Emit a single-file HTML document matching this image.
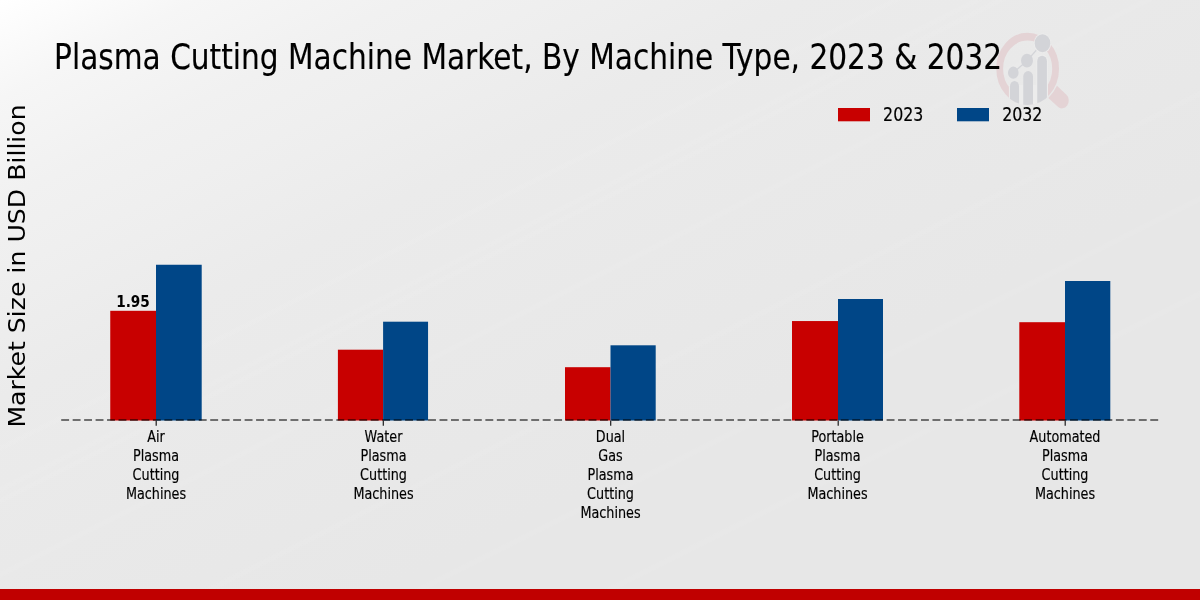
<!DOCTYPE html>
<html lang="en">
<head>
<meta charset="utf-8">
<title>Plasma Cutting Machine Market, By Machine Type, 2023 &amp; 2032</title>
<style>
html,body{margin:0;padding:0;}
body{width:1200px;height:600px;overflow:hidden;background:#e8e8e8;}
#chart{position:absolute;left:0;top:0;width:1200px;height:600px;
 background:linear-gradient(153.4deg,rgba(255,255,255,0) 0px,rgba(255,255,255,0) 396px,rgba(255,255,255,0.045) 400px,rgba(255,255,255,0.045) 402px,rgba(255,255,255,0) 406px,rgba(255,255,255,0) 433px,rgba(255,255,255,0.045) 437px,rgba(255,255,255,0.045) 439px,rgba(255,255,255,0) 443px,rgba(255,255,255,0) 443px,rgba(255,255,255,0.045) 447px,rgba(255,255,255,0.045) 449px,rgba(255,255,255,0) 453px,rgba(255,255,255,0) 509px,rgba(255,255,255,0.045) 513px,rgba(255,255,255,0.045) 515px,rgba(255,255,255,0) 519px,rgba(255,255,255,0) 616px,rgba(255,255,255,0.045) 620px,rgba(255,255,255,0.045) 622px,rgba(255,255,255,0) 626px,rgba(255,255,255,0) 710px,rgba(255,255,255,0.045) 714px,rgba(255,255,255,0.045) 716px,rgba(255,255,255,0) 720px,rgba(255,255,255,0) 795px,rgba(255,255,255,0.045) 799px,rgba(255,255,255,0.045) 801px,rgba(255,255,255,0) 805px,rgba(255,255,255,0) 1073px),linear-gradient(153.4deg,#ffffff 0px,#fbfbfb 40px,#f6f6f6 88px,#f1f1f1 180px,#efefef 245px,#ebebeb 357px,#e9e9e9 513px,#e7e7e7 700px,#e7e7e7 1073px);}
svg{position:absolute;left:0;top:0;display:block;}
text{font-family:"DejaVu Sans","Liberation Sans",sans-serif;fill:#000;stroke:#000;stroke-width:0.18px;}
text.big{stroke:none;}
text.title{stroke:#000;stroke-width:0.15px;}
</style>
</head>
<body>
<div id="chart">
<svg width="1200" height="600" viewBox="0 0 1200 600">
<!-- watermark logo -->
<g id="logo" transform="translate(1027.65,68.7) scale(0.871,1)">
  <clipPath id="lens"><circle cx="0" cy="0" r="36.4"/></clipPath>
  <circle cx="0" cy="0" r="32.1" fill="none" stroke="#e4d3d5" stroke-width="7.8"/>
  <g transform="rotate(39)">
    <path d="M36.9,-7.8 L51,-7.8 A7.4,7.8 0 0 1 51,7.8 L36.9,7.8 A37.7,37.7 0 0 0 36.9,-7.8 Z" fill="#e4d3d5"/>
  </g>
  <g clip-path="url(#lens)">
    <rect x="-21.5" y="16" width="44.8" height="30" fill="#ececec"/>
    <rect x="9.9" y="-14.2" width="13.4" height="40" rx="6.6" fill="#ececec"/>
    <g fill="#d3d4d8">
      <rect x="-20.3" y="12.3" width="10.4" height="40" rx="5.2"/>
      <rect x="-5.05" y="2.3" width="11.2" height="50" rx="5.6"/>
      <rect x="11.0" y="-13" width="11.1" height="60" rx="5.5"/>
    </g>
  </g>
  <polyline points="-16.5,4 -0.75,-8 17.05,-25.5" fill="none" stroke="#d3d4d8" stroke-width="1.4"/>
  <g fill="#ececec">
    <circle cx="17.05" cy="-25.5" r="10"/>
  </g>
  <g fill="#d3d4d8">
    <circle cx="-16.5" cy="4" r="6.1"/>
    <circle cx="-0.75" cy="-8" r="6.85"/>
    <circle cx="17.05" cy="-25.5" r="8.95"/>
  </g>
</g>
<!-- title -->
<text class="title" transform="translate(54.1,68.75) scale(0.8437,1)" font-size="35.1">Plasma Cutting Machine Market, By Machine Type, 2023 &amp; 2032</text>
<!-- y label -->
<text class="big" transform="translate(25,427.6) rotate(-90) scale(1,0.885)" font-size="25.16">Market Size in USD Billion</text>
<!-- legend -->
<rect x="838" y="108" width="32" height="13.3" fill="#c80000"/>
<text transform="translate(883.1,121.3) scale(0.792,1)" font-size="20">2023</text>
<rect x="957" y="108" width="32" height="13.3" fill="#004687"/>
<text transform="translate(1002.15,121.3) scale(0.792,1)" font-size="20">2032</text>
<!-- bars -->
<rect x="110.25" y="310.8" width="45.75" height="109.70" fill="#c80000"/>
<rect x="156.0" y="264.75" width="45.70" height="155.75" fill="#004687"/>
<rect x="337.9" y="349.7" width="45.20" height="70.80" fill="#c80000"/>
<rect x="383.1" y="321.7" width="44.95" height="98.80" fill="#004687"/>
<rect x="565.0" y="367.2" width="45.50" height="53.30" fill="#c80000"/>
<rect x="610.5" y="345.3" width="45.20" height="75.20" fill="#004687"/>
<rect x="792.0" y="321.05" width="46.00" height="99.45" fill="#c80000"/>
<rect x="838.0" y="299.0" width="45.00" height="121.50" fill="#004687"/>
<rect x="1019.3" y="322.2" width="45.70" height="98.30" fill="#c80000"/>
<rect x="1065.0" y="281.0" width="45.30" height="139.50" fill="#004687"/>
<!-- axis -->
<line x1="61.2" y1="420" x2="1158.4" y2="420" stroke="#000" stroke-opacity="0.7" stroke-width="1.65" stroke-dasharray="7.9 3.564"/>
<line x1="156.2" y1="420.5" x2="156.2" y2="425.8" stroke="#1c1c1c" stroke-width="1.2"/>
<line x1="383.3" y1="420.5" x2="383.3" y2="425.8" stroke="#1c1c1c" stroke-width="1.2"/>
<line x1="610.7" y1="420.5" x2="610.7" y2="425.8" stroke="#1c1c1c" stroke-width="1.2"/>
<line x1="838.2" y1="420.5" x2="838.2" y2="425.8" stroke="#1c1c1c" stroke-width="1.2"/>
<line x1="1065.2" y1="420.5" x2="1065.2" y2="425.8" stroke="#1c1c1c" stroke-width="1.2"/>
<!-- value label -->
<text class="big" transform="translate(133.0,307.2) scale(0.833,1)" text-anchor="middle" font-size="16.4" font-weight="bold">1.95</text>
<!-- category labels -->
<text transform="translate(156.0,441.70) scale(0.78,1)" text-anchor="middle" font-size="16.4">Air</text>
<text transform="translate(156.0,460.70) scale(0.78,1)" text-anchor="middle" font-size="16.4">Plasma</text>
<text transform="translate(156.0,479.70) scale(0.78,1)" text-anchor="middle" font-size="16.4">Cutting</text>
<text transform="translate(156.0,498.70) scale(0.78,1)" text-anchor="middle" font-size="16.4">Machines</text>
<text transform="translate(383.5,441.70) scale(0.78,1)" text-anchor="middle" font-size="16.4">Water</text>
<text transform="translate(383.5,460.70) scale(0.78,1)" text-anchor="middle" font-size="16.4">Plasma</text>
<text transform="translate(383.5,479.70) scale(0.78,1)" text-anchor="middle" font-size="16.4">Cutting</text>
<text transform="translate(383.5,498.70) scale(0.78,1)" text-anchor="middle" font-size="16.4">Machines</text>
<text transform="translate(610.5,441.70) scale(0.78,1)" text-anchor="middle" font-size="16.4">Dual</text>
<text transform="translate(610.5,460.70) scale(0.78,1)" text-anchor="middle" font-size="16.4">Gas</text>
<text transform="translate(610.5,479.70) scale(0.78,1)" text-anchor="middle" font-size="16.4">Plasma</text>
<text transform="translate(610.5,498.70) scale(0.78,1)" text-anchor="middle" font-size="16.4">Cutting</text>
<text transform="translate(610.5,517.70) scale(0.78,1)" text-anchor="middle" font-size="16.4">Machines</text>
<text transform="translate(837.55,441.70) scale(0.78,1)" text-anchor="middle" font-size="16.4">Portable</text>
<text transform="translate(837.55,460.70) scale(0.78,1)" text-anchor="middle" font-size="16.4">Plasma</text>
<text transform="translate(837.55,479.70) scale(0.78,1)" text-anchor="middle" font-size="16.4">Cutting</text>
<text transform="translate(837.55,498.70) scale(0.78,1)" text-anchor="middle" font-size="16.4">Machines</text>
<text transform="translate(1065.0,441.70) scale(0.78,1)" text-anchor="middle" font-size="16.4">Automated</text>
<text transform="translate(1065.0,460.70) scale(0.78,1)" text-anchor="middle" font-size="16.4">Plasma</text>
<text transform="translate(1065.0,479.70) scale(0.78,1)" text-anchor="middle" font-size="16.4">Cutting</text>
<text transform="translate(1065.0,498.70) scale(0.78,1)" text-anchor="middle" font-size="16.4">Machines</text>
<!-- bottom strip -->
<rect x="0" y="589" width="1200" height="11" fill="#c00000"/>
</svg>
</div>
</body>
</html>
